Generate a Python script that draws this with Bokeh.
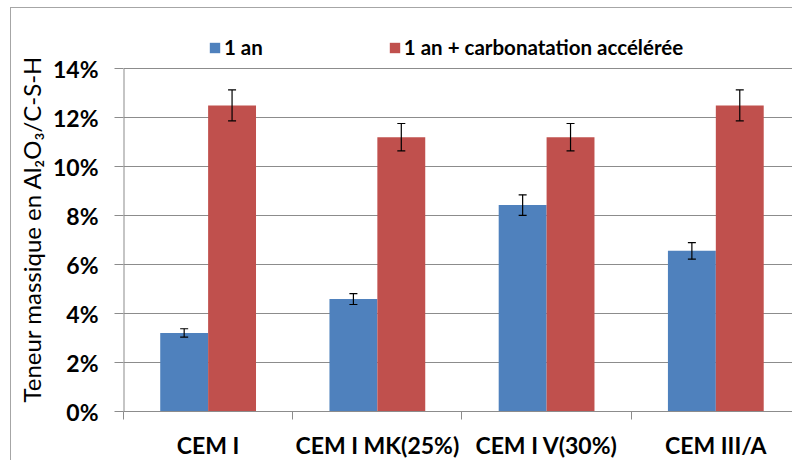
from bokeh.plotting import figure
from bokeh.models import (ColumnDataSource, Whisker, TeeHead, FixedTicker,
                          NumeralTickFormatter, Range1d, Legend, LegendItem, Title)
from bokeh.embed import file_html
from bokeh.resources import INLINE

# ---- data ----
categories = ["CEM I", "CEM I MK(25%)", "CEM I V(30%)", "CEM III/A"]
series_names = ["1 an", "1 an + carbonatation accélérée"]
an1 = [0.0321, 0.0459, 0.0843, 0.0656]
an1_err = [0.0017, 0.0022, 0.0042, 0.0034]
carb = [0.125, 0.112, 0.112, 0.125]
carb_err = [0.0063, 0.0056, 0.0056, 0.0063]
y_ticks = [0.0, 0.02, 0.04, 0.06, 0.08, 0.10, 0.12, 0.14]
y_title = "Teneur massique en Al₂O₃/C-S-H"

colors = ["#4F81BD", "#C0504D"]
grid_col = "#8c8c8c"
FONT = "Lato"

bar_w = 0.283
centers = [i + 0.5 for i in range(len(categories))]
y_top = y_ticks[-1]
y_view_end = 0.1613   # extra room above the top tick for the legend

p = figure(width=782, height=453, output_backend="svg", toolbar_location=None,
           x_range=Range1d(0, 3.959), y_range=Range1d(0, y_view_end),
           min_border_left=107, min_border_right=0, min_border_top=8,
           min_border_bottom=47)
# outer chart border (left and top edges visible, as in the reference)
p.styles = {"margin-left": "10px", "margin-top": "7px",
            "border-left": "1px solid #a6a6a6", "border-top": "1px solid #a6a6a6"}
p.outline_line_color = None
p.background_fill_color = "white"
p.border_fill_color = "white"

# grid
p.xgrid.visible = False
p.ygrid.ticker = FixedTicker(ticks=y_ticks)
p.ygrid.grid_line_color = grid_col
p.ygrid.grid_line_width = 1

renderers = []
for k, (vals, errs) in enumerate([(an1, an1_err), (carb, carb_err)]):
    off = (-0.5 + k) * bar_w
    src = ColumnDataSource(dict(
        x=[c + off for c in centers], top=vals,
        lower=[v - e for v, e in zip(vals, errs)],
        upper=[v + e for v, e in zip(vals, errs)]))
    r = p.vbar(x="x", top="top", width=bar_w, bottom=0, source=src,
               fill_color=colors[k], line_color=None)
    renderers.append(r)
    w = Whisker(base="x", lower="lower", upper="upper", source=src,
                line_color="black", line_width=1.2, level="overlay",
                upper_head=TeeHead(size=8, line_color="black", line_width=1.2),
                lower_head=TeeHead(size=8, line_color="black", line_width=1.2))
    p.add_layout(w)

# y axis line only up to the top tick
p.segment(x0=[0], y0=[0], x1=[0], y1=[y_top], line_color=grid_col, line_width=2)

# y axis
ya = p.yaxis[0]
ya.ticker = FixedTicker(ticks=y_ticks)
ya.formatter = NumeralTickFormatter(format="0%")
ya.axis_line_color = None
ya.major_tick_line_color = grid_col
ya.major_tick_out = 9
ya.major_tick_in = 0
ya.minor_tick_line_color = None
ya.minor_tick_out = 0
ya.major_label_text_font = FONT
ya.major_label_text_font_style = "bold"
ya.major_label_text_font_size = "23px"
ya.major_label_text_color = "black"
ya.major_label_standoff = 16

# y title as a left-side title, starting just above the 0 % line
yt = Title(text=y_title, align="left", offset=9, standoff=7,
           text_font=FONT, text_font_style="normal", text_font_size="24px",
           text_color="black")
p.add_layout(yt, "left")

# x axis
xa = p.xaxis[0]
xa.ticker = FixedTicker(ticks=centers, minor_ticks=[0, 1, 2, 3])
xa.major_label_overrides = {c: name for c, name in zip(centers, categories)}
xa.axis_line_color = grid_col
xa.major_tick_line_color = None
xa.major_tick_out = 0
xa.major_tick_in = 0
xa.minor_tick_line_color = grid_col
xa.minor_tick_out = 8
xa.minor_tick_in = 0
xa.major_label_text_font = FONT
xa.major_label_text_font_style = "bold"
xa.major_label_text_font_size = "23px"
xa.major_label_text_color = "black"
xa.major_label_standoff = 11

# legend
legend = Legend(items=[LegendItem(label=series_names[i], renderers=[renderers[i]])
                       for i in range(2)],
                orientation="horizontal", location=(85, 352),
                spacing=125, padding=2, margin=0,
                glyph_width=13, glyph_height=13, label_standoff=3,
                label_text_font=FONT, label_text_font_style="bold",
                label_text_font_size="20.5px", label_text_color="black",
                border_line_color=None, background_fill_alpha=0)
p.add_layout(legend, "center")

open("out.html", "w").write(file_html(p, INLINE))
